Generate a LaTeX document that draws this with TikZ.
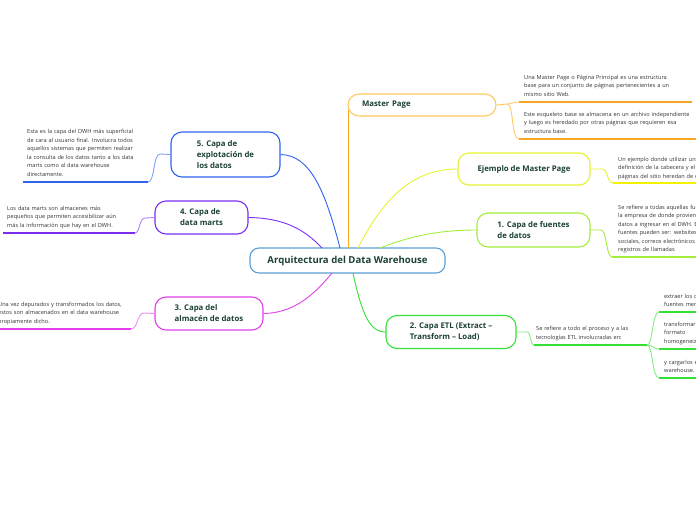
\documentclass[tikz,border=0pt]{standalone}
\usepackage{fontspec}
\setmainfont{Open Sans}
\definecolor{ttl}{HTML}{1B4036}
\definecolor{txt}{HTML}{333333}
\definecolor{cblue}{HTML}{5A9FD4}
\definecolor{corange}{HTML}{F5A623}
\definecolor{corangel}{HTML}{FFC861}
\definecolor{cyellow}{HTML}{E6F22E}
\definecolor{cyellowd}{HTML}{F2F200}
\definecolor{clgreen}{HTML}{A3EE3A}
\definecolor{cgreen}{HTML}{33E033}
\definecolor{cbl}{HTML}{2F62F0}
\definecolor{cpur}{HTML}{7A2FF0}
\definecolor{cmag}{HTML}{E23FEA}
\tikzset{
  topic/.style={draw, rounded corners=11pt, fill=white, line width=1.1pt, inner sep=0pt,
    font=\fontsize{7.8}{11}\selectfont\bfseries, text=ttl, align=left},
  leaf/.style={anchor=base west, inner sep=0pt, text width=220pt, align=left,
    font=\fontsize{5.6}{8.5}\selectfont, text=txt},
  conn/.style={line width=0.9pt},
  uline/.style={line width=1.9pt},
}
\begin{document}
\begin{tikzpicture}[x=1pt,y=-1pt]
\useasboundingbox (0,0) rectangle (696,520);
\clip (0,0) rectangle (696,520);

% central node
\node[topic, draw=cblue, rounded corners=9pt, minimum width=195pt, minimum height=25pt,
  font=\fontsize{9.6}{11}\selectfont\bfseries] (c) at (347.5,260.5) {Arquitectura del Data Warehouse};

% topic nodes
\node[topic, draw=corangel, minimum width=148pt, minimum height=22pt, text width=120pt, inner xsep=14pt] (mp) at (422,105) {Master Page};
\node[topic, draw=cyellow, minimum width=132pt, minimum height=32pt] (ej) at (524,169) {Ejemplo de Master Page};
\node[topic, draw=clgreen, minimum width=113pt, minimum height=34pt] (c1) at (533.5,230) {1. Capa de fuentes\\de datos};
\node[topic, draw=cgreen, minimum width=130pt, minimum height=33pt] (c2) at (451,332) {2. Capa ETL (Extract –\\Transform – Load)};
\node[topic, draw=cbl, minimum width=109pt, minimum height=45pt] (c5) at (225.5,154.5) {5. Capa de\\explotación de\\los datos};
\node[topic, draw=cpur, minimum width=93pt, minimum height=33pt] (c4) at (201.5,217.5) {4. Capa de\\data marts};
\node[topic, draw=cmag, minimum width=108pt, minimum height=33pt] (c3) at (209,313.5) {3. Capa del\\almacén de datos};

% anchor coordinates on the central node
\coordinate (cpur) at (322,248);
\coordinate (cbl) at (340,248);
\coordinate (cor) at (348,248);
\coordinate (cye) at (358,248);
\coordinate (clg) at (380,248);
\coordinate (cmg) at (332,273);
\coordinate (cgr) at (353,273);

% central connectors
\draw[conn, corange] (cor) -- (348,110);
\draw[conn, cyellow] (cye) .. controls (385,195) and (415,169) .. (ej.west);
\draw[conn, clgreen] (clg) .. controls (410,236) and (440,230) .. (c1.west);
\draw[conn, cgreen] (cgr) .. controls (362,315) and (370,332) .. (c2.west);
\draw[conn, cbl] (cbl) .. controls (325,190) and (310,155) .. (c5.east);
\draw[conn, cpur] (cpur) .. controls (305,230) and (285,218) .. (c4.east);
\draw[conn, cmag] (cmg) .. controls (310,300) and (290,313) .. (c3.east);

% ---------- Master Page leaves
\coordinate (mpb) at (507,104);
\coordinate (m1a) at (519,102);
\coordinate (m1b) at (692,102);
\coordinate (m2a) at (519,139);
\coordinate (m2b) at (700,139);
\draw[conn, corangel] (mp.east) -- (mpb) .. controls (512,104) and (513,102) .. (m1a);
\draw[conn, corangel] (mpb) .. controls (514,104) and (511,139) .. (m2a);
\draw[uline, corange] (m1a) -- (m1b);
\draw[uline, corange] (m2a) -- (m2b);
\node[leaf] (t1) at (524,79) {Una Master Page o Página Principal es una estructura\\base para un conjunto de páginas pertenecientes a un\\mismo sitio Web.};
\node[leaf] (t2) at (524,116) {Este esqueleto base se almacena en un archivo independiente\\y luego es heredado por otras páginas que requieren esa\\estructura base.};

% ---------- Ejemplo leaf
\coordinate (ejb) at (602,169);
\coordinate (e1a) at (613,183);
\coordinate (e1b) at (700,183);
\draw[conn, cyellow] (ej.east) -- (ejb) .. controls (608,169) and (607,183) .. (e1a);
\draw[uline, cyellowd] (e1a) -- (e1b);
\node[leaf] (t3) at (618,161) {Un ejemplo donde utilizar una Master Page es la\\definición de la cabecera y el pie, ya que todas las\\páginas del sitio heredan de ella.};

% ---------- Capa 1 leaf
\coordinate (c1b) at (601,230);
\coordinate (f1a) at (612,257);
\coordinate (f1b) at (700,257);
\draw[conn, clgreen] (c1.east) -- (c1b) .. controls (607,230) and (606,257) .. (f1a);
\draw[uline, clgreen] (f1a) -- (f1b);
\node[leaf] (t4) at (618,209) {Se refiere a todas aquellas fuentes de\\la empresa de donde provienen los\\datos a ingresar en el DWH. Estas\\fuentes pueden ser: websites, redes\\sociales, correos electrónicos y\\registros de llamadas};

% ---------- ETL leaf
\coordinate (c2b) at (527,332);
\coordinate (g1a) at (534,345);
\coordinate (g1b) at (647,345);
\draw[conn, cgreen!60] (c2.east) -- (c2b) .. controls (531,332) and (530,345) .. (g1a);
\draw[uline, cgreen] (g1a) -- (g1b);
\node[leaf] (t5) at (536,330.5) {Se refiere a todo el proceso y a las\\tecnologías ETL involucradas en:};

\coordinate (s1a) at (659,312);
\coordinate (s1b) at (700,312);
\coordinate (s2a) at (659,349);
\coordinate (s2b) at (700,349);
\coordinate (s3a) at (659,378);
\coordinate (s3b) at (700,378);
\draw[conn, cgreen!60] (g1b) .. controls (653,345) and (652,312) .. (s1a);
\draw[conn, cgreen!60] (g1b) .. controls (653,345) and (653,349) .. (s2a);
\draw[conn, cgreen!60] (g1b) .. controls (653,345) and (652,378) .. (s3a);
\draw[uline, cgreen] (s1a) -- (s1b);
\draw[uline, cgreen] (s2a) -- (s2b);
\draw[uline, cgreen] (s3a) -- (s3b);
\node[leaf] (t6) at (664,298) {extraer los datos de las\\fuentes mencionadas,};
\node[leaf] (t7) at (664,326) {transformarlos a un\\formato\\homogeneizado};
\node[leaf] (t8) at (664,364) {y cargarlos en el data\\warehouse.};

% ---------- Capa 5 leaf
\coordinate (c5b) at (160,154);
\coordinate (h1a) at (148,182);
\coordinate (h1b) at (23,182);
\draw[conn, cbl!60] (c5.west) -- (c5b) .. controls (153,154) and (155,182) .. (h1a);
\draw[uline, cbl] (h1a) -- (h1b);
\node[leaf] (t9) at (27,133.5) {Esta es la capa del DWH más superficial\\de cara al usuario final. Involucra todos\\aquellos sistemas que permiten realizar\\la consulta de los datos tanto a los data\\marts como al data warehouse\\directamente.};

% ---------- Capa 4 leaf
\coordinate (c4b) at (145,218);
\coordinate (k1a) at (135,233);
\coordinate (k1b) at (3,233);
\draw[conn, cpur!60] (c4.west) -- (c4b) .. controls (139,218) and (140,233) .. (k1a);
\draw[uline, cpur] (k1a) -- (k1b);
\node[leaf] (t10) at (7,210) {Los data marts son almacenes más\\pequeños que permiten accesibilizar aún\\más la información que hay en el DWH.};

% ---------- Capa 3 leaf
\coordinate (c3b) at (144,313);
\coordinate (l1a) at (131,329);
\coordinate (l1b) at (-5,329);
\draw[conn, cmag!60] (c3.west) -- (c3b) .. controls (137,313) and (138,329) .. (l1a);
\draw[uline, cmag] (l1a) -- (l1b);
\node[leaf] (t11) at (-2,306) {Una vez depurados y transformados los datos,\\estos son almacenados en el data warehouse\\propiamente dicho.};
\end{tikzpicture}
\end{document}
